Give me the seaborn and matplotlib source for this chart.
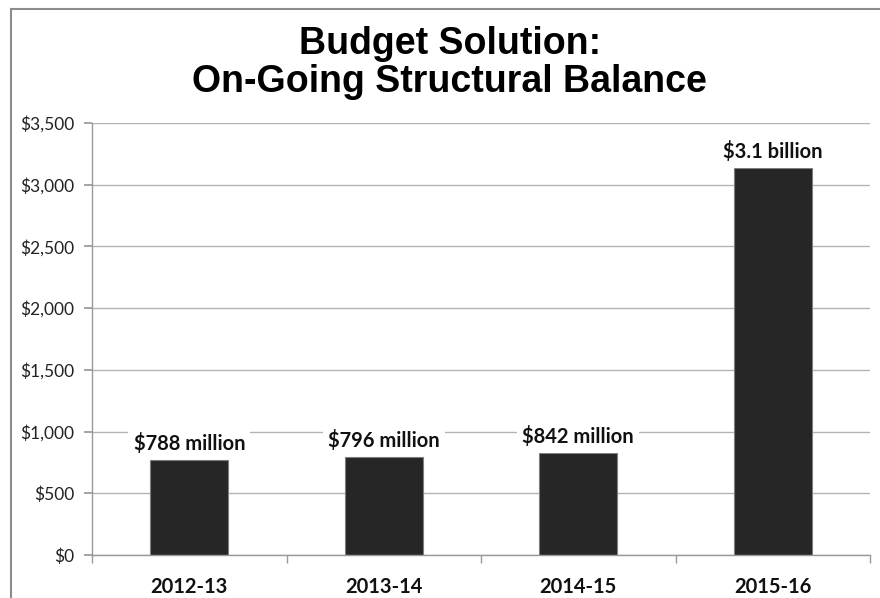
import matplotlib
matplotlib.use("Agg")
import matplotlib.pyplot as plt
import seaborn as sns
import pandas as pd
from matplotlib.patches import Rectangle
from matplotlib.ticker import FuncFormatter

years = ["2012-13", "2013-14", "2014-15", "2015-16"]
values = [770, 794, 826, 3135]
labels = ["$788 million", "$796 million", "$842 million", "$3.1 billion"]
yticks = [0, 500, 1000, 1500, 2000, 2500, 3000, 3500]

df = pd.DataFrame({"year": years, "value": values})

sns.set_theme(style="white")
plt.rcParams["font.family"] = ["Lato", "DejaVu Sans"]

fig = plt.figure(figsize=(8.8, 5.98), dpi=100)
ax = fig.add_axes([92/880, 1-555/598, (870-92)/880, (555-123)/598])

sns.barplot(data=df, x="year", y="value", ax=ax, color="#262626",
            width=0.4, edgecolor="#7f7f7f", linewidth=0.8, saturation=1)

ax.set_ylim(0, 3500)
ax.set_xlim(-0.5, 3.5)
ax.set_yticks(yticks)
ax.yaxis.set_major_formatter(FuncFormatter(lambda v, p: f"${int(v):,}"))
ax.grid(axis="y", color="#b3b3b3", linewidth=1.0)
ax.set_axisbelow(True)
ax.set_xlabel("")
ax.set_ylabel("")

for s in ["top", "right"]:
    ax.spines[s].set_visible(False)
for s in ["left", "bottom"]:
    ax.spines[s].set_color("#999999")
    ax.spines[s].set_linewidth(1.0)

ax.tick_params(axis="y", which="major", left=True, length=6, color="#999999",
               labelsize=12.5, labelcolor="#222222", pad=7)
ax.tick_params(axis="x", which="major", bottom=False, labelsize=14.5,
               labelcolor="#111111", pad=10)
for t in ax.get_xticklabels():
    t.set_fontweight("bold")
ax.set_xticks([-0.5, 0.5, 1.5, 2.5, 3.5], minor=True)
ax.tick_params(axis="x", which="minor", bottom=True, length=6, color="#999999")

for i, (v, lab) in enumerate(zip(values, labels)):
    ax.annotate(lab, (i, v), xytext=(0, 4), textcoords="offset points",
                ha="center", va="bottom", fontsize=14.5, fontweight="bold",
                color="#111111",
                bbox=dict(boxstyle="square,pad=0.25", fc="white", ec="none"))

fig.text(0.511, 1-63/598, "Budget Solution:\nOn-Going Structural Balance",
         ha="center", va="center", fontsize=27, fontweight="bold",
         family=["Liberation Sans", "DejaVu Sans"], linespacing=1.08,
         color="#000000")

fig.patches.append(Rectangle((10.5/880, -0.05), 1.2, 1-8.5/598+0.05,
                             transform=fig.transFigure, fill=False,
                             edgecolor="#8c8c8c", linewidth=1.5))

fig.savefig("out.png", dpi=100)
